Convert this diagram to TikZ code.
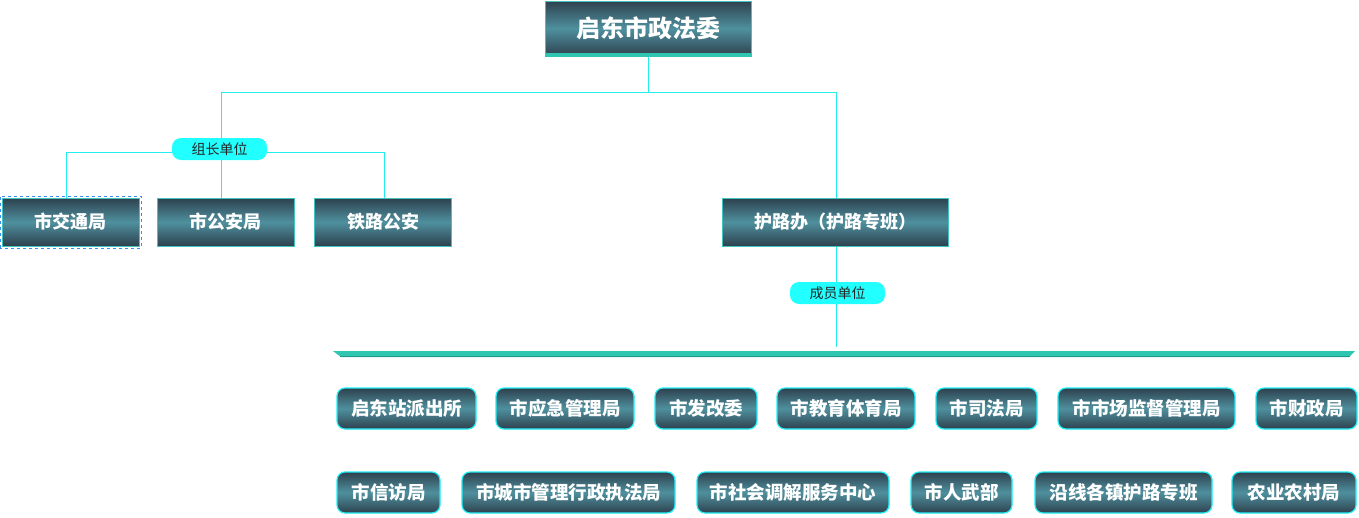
\documentclass[tikz,border=0pt]{standalone}
\usepackage{fontspec}
\newfontfamily\cjk{Noto Sans CJK SC}
\usetikzlibrary{backgrounds}
\definecolor{boxdark}{HTML}{2E414E}
\definecolor{boxmid}{HTML}{4F909E}
\definecolor{rimteal}{HTML}{43C2C0}
\definecolor{rimcyan}{HTML}{1EF0F8}
\definecolor{linecyan}{HTML}{22EEEE}
\definecolor{pillcyan}{HTML}{22FFFF}
\definecolor{barteal}{HTML}{2EC6B0}
\definecolor{bardark}{HTML}{1E9A88}
\definecolor{selblue}{HTML}{3A8EEA}
\tikzset{
  unit/.style={top color=boxdark, bottom color=boxdark, middle color=boxmid,
    text=white, inner sep=0pt, font=\cjk\bfseries\fontsize{18}{18}\selectfont},
  headbox/.style={unit, draw=rimteal, line width=1pt, minimum height=48pt},
  member/.style={unit, draw=rimcyan, line width=1.2pt, rounded corners=8pt,
    minimum height=41pt, font=\cjk\bfseries\fontsize{18.5}{18.5}\selectfont},
  pill/.style={fill=pillcyan, rounded corners=9pt, minimum width=95pt,
    minimum height=22pt, inner sep=0pt, text=black!85,
    font=\cjk\fontsize{14}{14}\selectfont},
  link/.style={draw=linecyan, line width=1pt}
}
\begin{document}
\begin{tikzpicture}[x=1pt, y=-1pt]
      \useasboundingbox (0,0) rectangle (1359,517);
      % top
      \draw
        (648,28.5) node[headbox, minimum width=206pt, minimum height=55pt,
          font=\cjk\bfseries\fontsize{24}{24}\selectfont] (zfw){启东市政法委};
      \fill[barteal] ([yshift=4pt]zfw.south west) rectangle (zfw.south east);
      % second level
      \draw
        (70.5,222) node[headbox, minimum width=137pt] (jtj){市交通局}
        (225.5,222) node[headbox, minimum width=137pt] (gaj){市公安局}
        (383,222) node[headbox, minimum width=137pt] (tlga){铁路公安}
        (835,222) node[headbox, minimum width=226pt] (hlb){护路办（护路专班）};
      \draw[selblue, dashed, line width=1pt]
        ([shift={(-1.5pt,-1.5pt)}]jtj.south west) rectangle ([shift={(1.5pt,1.5pt)}]jtj.north east);
      \draw
        (219.5,149) node[pill] (zz){组长单位}
        (837.5,293) node[pill] (cy){成员单位};
      % member bar
      \fill[barteal] (333,351) -- (1355,351) -- (1349,357) -- (341,357) -- cycle;
      \draw[bardark, line width=1pt] (340,356.5) -- (1349.5,356.5);
      % members
      \draw
        (406.5,408.5) node[member, minimum width=139pt] (qdz){启东站派出所}
        (565,408.5) node[member, minimum width=138pt] (yjj){市应急管理局}
        (706,408.5) node[member, minimum width=102pt] (fgw){市发改委}
        (846,408.5) node[member, minimum width=138pt] (jyj){市教育体育局}
        (986.5,408.5) node[member, minimum width=101pt] (sfj){市司法局}
        (1146.5,408.5) node[member, minimum width=177pt] (scj){市市场监督管理局}
        (1306.5,408.5) node[member, minimum width=101pt] (czj){市财政局}
        (388.5,492.5) node[member, minimum width=103pt] (xfj){市信访局}
        (568.5,492.5) node[member, minimum width=213pt] (cgj){市城市管理行政执法局}
        (793,492.5) node[member, minimum width=192pt] (tjz){市社会调解服务中心}
        (961.5,492.5) node[member, minimum width=101pt] (rwb){市人武部}
        (1123.5,492.5) node[member, minimum width=177pt] (ydz){沿线各镇护路专班}
        (1294,492.5) node[member, minimum width=124pt] (nyj){农业农村局};
      \coordinate (top) at (648,92);
      \coordinate (cyend) at (836,347);
      \begin{scope}[on background layer]
        \draw[link] (zfw.south) -- (top);
        \draw[link] (top) -| ([xshift=1.5pt]zz.north);
        \draw[link] (top) -| ([xshift=1pt]hlb.north);
        \draw[link] ([yshift=-3pt]zz.center) -| ([xshift=-4pt]jtj.north);
        \draw[link] ([yshift=-3pt]zz.center) -| ([xshift=1pt]tlga.north);
        \draw[link] ([xshift=1.5pt]zz.south) -- ([xshift=-4.5pt]gaj.north);
        \draw[link] ([xshift=1pt]hlb.south) -- ([xshift=-1.5pt]cy.north);
        \draw[link] ([xshift=-1.5pt]cy.south) -- (cyend);
      \end{scope}
    \end{tikzpicture}
\end{document}
